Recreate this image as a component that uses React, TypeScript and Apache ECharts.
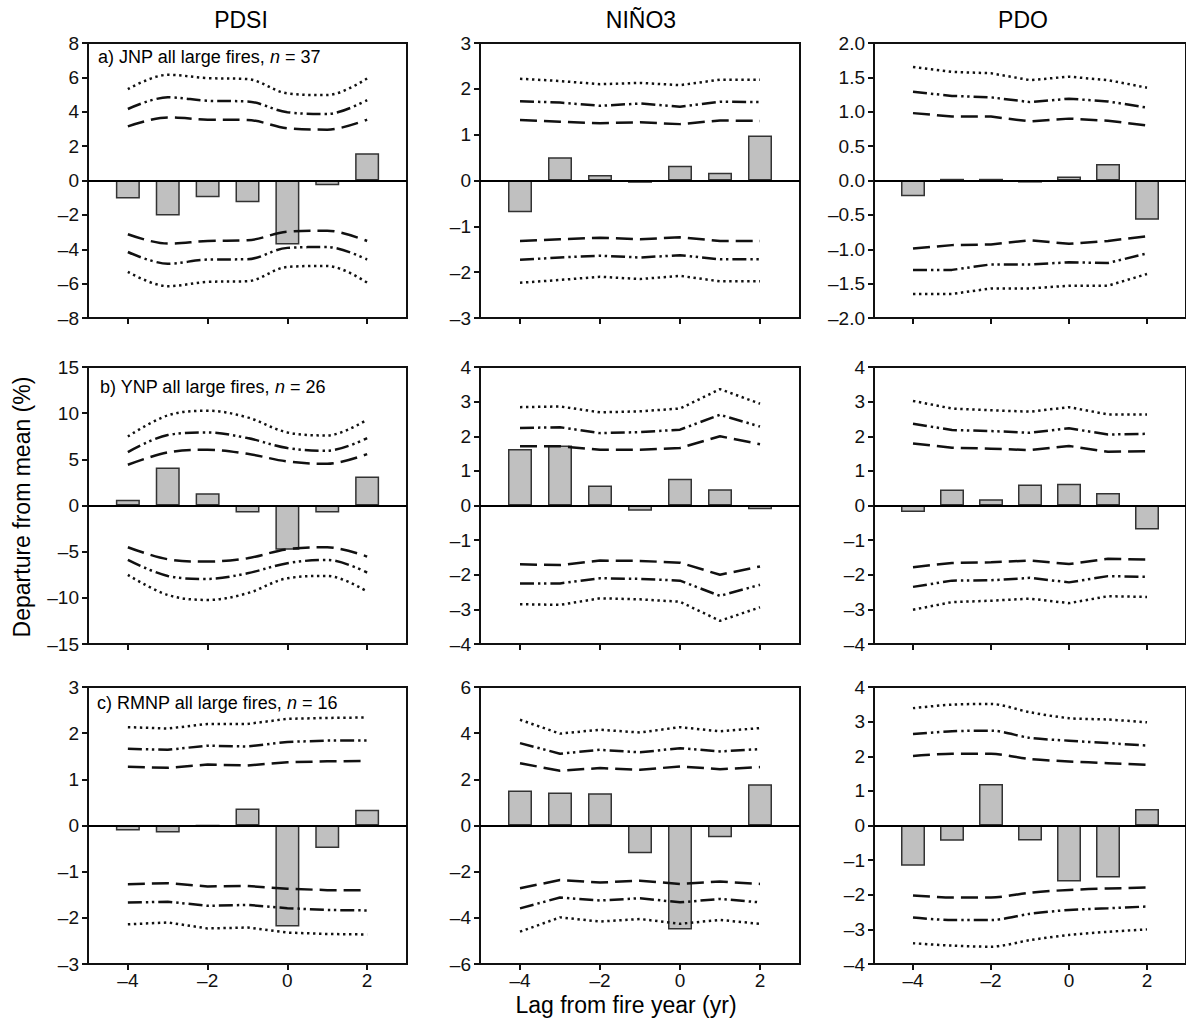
import React, { useEffect, useRef } from "react";
import * as echarts from "echarts";

// ---------- data ----------
const LAGS = [-4, -3, -2, -1, 0, 1, 2];
const X_TICKS = [-4, -2, 0, 2];
const COLUMN_TITLES = ["PDSI", "NIÑO3", "PDO"];
const PANEL_LABELS = [
  ["a) JNP all large fires, ", "n", " = 37"],
  ["b) YNP all large fires, ", "n", " = 26"],
  ["c) RMNP all large fires, ", "n", " = 16"],
];
const Y_MIN = [-8, -3, -2, -15, -4, -4, -3, -6, -4];
const Y_MAX = [8, 3, 2, 15, 4, 4, 3, 6, 4];
const Y_STEP = [2, 1, 0.5, 5, 1, 1, 1, 2, 1];
const Y_DECIMALS = [0, 0, 1, 0, 0, 0, 0, 0, 0];

// a) JNP — PDSI
const jnpPdsiBars = [-1.05, -2.03, -0.97, -1.26, -3.73, -0.27, 1.59];
const jnpPdsiDotUp = [5.32, 6.15, 5.96, 5.9, 5.07, 4.97, 5.94];
const jnpPdsiDashDotUp = [4.16, 4.84, 4.64, 4.6, 3.97, 3.87, 4.68];
const jnpPdsiDashUp = [3.15, 3.67, 3.54, 3.52, 3.04, 2.96, 3.54];
const jnpPdsiDashLo = [-3.13, -3.67, -3.52, -3.48, -2.98, -2.92, -3.52];
const jnpPdsiDashDotLo = [-4.16, -4.84, -4.6, -4.58, -3.92, -3.87, -4.6];
const jnpPdsiDotLo = [-5.32, -6.15, -5.9, -5.86, -5.03, -4.97, -5.94];
// a) JNP — NIÑO3
const jnpNinoBars = [-0.69, 0.51, 0.12, -0.05, 0.32, 0.17, 0.98];
const jnpNinoDotUp = [2.22, 2.17, 2.1, 2.13, 2.08, 2.2, 2.2];
const jnpNinoDashDotUp = [1.73, 1.7, 1.63, 1.68, 1.61, 1.72, 1.71];
const jnpNinoDashUp = [1.32, 1.28, 1.25, 1.27, 1.23, 1.31, 1.3];
const jnpNinoDashLo = [-1.32, -1.28, -1.25, -1.28, -1.24, -1.32, -1.32];
const jnpNinoDashDotLo = [-1.73, -1.68, -1.64, -1.68, -1.63, -1.72, -1.72];
const jnpNinoDotLo = [-2.23, -2.17, -2.1, -2.15, -2.08, -2.2, -2.2];
// a) JNP — PDO
const jnpPdoBars = [-0.23, 0.025, 0.025, -0.03, 0.06, 0.24, -0.57];
const jnpPdoDotUp = [1.65, 1.58, 1.56, 1.46, 1.51, 1.46, 1.35];
const jnpPdoDashDotUp = [1.29, 1.23, 1.21, 1.14, 1.19, 1.15, 1.06];
const jnpPdoDashUp = [0.98, 0.93, 0.93, 0.86, 0.9, 0.87, 0.8];
const jnpPdoDashLo = [-0.99, -0.94, -0.93, -0.87, -0.92, -0.88, -0.81];
const jnpPdoDashDotLo = [-1.3, -1.3, -1.22, -1.22, -1.19, -1.2, -1.06];
const jnpPdoDotLo = [-1.65, -1.65, -1.57, -1.57, -1.53, -1.53, -1.36];

// b) YNP — PDSI
const ynpPdsiBars = [0.61, 4.12, 1.34, -0.76, -4.8, -0.76, 3.14];
const ynpPdsiDotUp = [7.48, 9.76, 10.26, 9.54, 7.91, 7.59, 9.29];
const ynpPdsiDashDotUp = [5.78, 7.63, 7.91, 7.3, 6.22, 5.93, 7.3];
const ynpPdsiDashUp = [4.41, 5.75, 6.04, 5.6, 4.77, 4.52, 5.57];
const ynpPdsiDashLo = [-4.52, -5.82, -6.07, -5.71, -4.73, -4.52, -5.53];
const ynpPdsiDashDotLo = [-5.89, -7.63, -7.95, -7.34, -6.25, -5.89, -7.26];
const ynpPdsiDotLo = [-7.52, -9.69, -10.23, -9.5, -7.88, -7.63, -9.32];
// b) YNP — NIÑO3
const ynpNinoBars = [1.63, 1.73, 0.58, -0.15, 0.77, 0.47, -0.11];
const ynpNinoDotUp = [2.84, 2.86, 2.69, 2.72, 2.8, 3.36, 2.94];
const ynpNinoDashDotUp = [2.24, 2.26, 2.09, 2.12, 2.19, 2.62, 2.28];
const ynpNinoDashUp = [1.71, 1.71, 1.61, 1.61, 1.66, 2.0, 1.77];
const ynpNinoDashLo = [-1.7, -1.72, -1.59, -1.6, -1.65, -2.0, -1.76];
const ynpNinoDashDotLo = [-2.25, -2.25, -2.1, -2.12, -2.17, -2.61, -2.29];
const ynpNinoDotLo = [-2.85, -2.87, -2.68, -2.71, -2.78, -3.33, -2.94];
// b) YNP — PDO
const ynpPdoBars = [-0.19, 0.46, 0.18, 0.61, 0.63, 0.36, -0.69];
const ynpPdoDotUp = [3.02, 2.8, 2.75, 2.71, 2.84, 2.63, 2.63];
const ynpPdoDashDotUp = [2.36, 2.18, 2.15, 2.1, 2.23, 2.05, 2.07];
const ynpPdoDashUp = [1.79, 1.67, 1.64, 1.6, 1.72, 1.55, 1.57];
const ynpPdoDashLo = [-1.78, -1.66, -1.64, -1.59, -1.69, -1.54, -1.56];
const ynpPdoDashDotLo = [-2.35, -2.17, -2.16, -2.09, -2.22, -2.04, -2.06];
const ynpPdoDotLo = [-3.01, -2.79, -2.75, -2.69, -2.82, -2.62, -2.64];

// c) RMNP — PDSI
const rmnpPdsiBars = [-0.11, -0.15, 0, 0.37, -2.19, -0.49, 0.34];
const rmnpPdsiDotUp = [2.13, 2.1, 2.2, 2.2, 2.31, 2.33, 2.34];
const rmnpPdsiDashDotUp = [1.66, 1.64, 1.73, 1.71, 1.81, 1.84, 1.84];
const rmnpPdsiDashUp = [1.27, 1.25, 1.32, 1.3, 1.37, 1.39, 1.4];
const rmnpPdsiDashLo = [-1.27, -1.25, -1.32, -1.31, -1.37, -1.4, -1.4];
const rmnpPdsiDashDotLo = [-1.67, -1.65, -1.74, -1.72, -1.79, -1.83, -1.84];
const rmnpPdsiDotLo = [-2.14, -2.1, -2.23, -2.21, -2.32, -2.35, -2.36];
// c) RMNP — NIÑO3
const rmnpNinoBars = [1.52, 1.43, 1.4, -1.2, -4.5, -0.51, 1.79];
const rmnpNinoDotUp = [4.58, 3.98, 4.15, 4.03, 4.26, 4.08, 4.22];
const rmnpNinoDashDotUp = [3.57, 3.11, 3.28, 3.17, 3.35, 3.21, 3.31];
const rmnpNinoDashUp = [2.7, 2.37, 2.49, 2.41, 2.56, 2.44, 2.53];
const rmnpNinoDashLo = [-2.72, -2.36, -2.47, -2.39, -2.53, -2.43, -2.53];
const rmnpNinoDashDotLo = [-3.59, -3.12, -3.25, -3.15, -3.33, -3.18, -3.33];
const rmnpNinoDotLo = [-4.6, -3.98, -4.16, -4.05, -4.26, -4.09, -4.26];
// c) RMNP — PDO
const rmnpPdoBars = [-1.16, -0.44, 1.2, -0.43, -1.62, -1.5, 0.48];
const rmnpPdoDotUp = [3.39, 3.49, 3.51, 3.27, 3.1, 3.06, 2.98];
const rmnpPdoDashDotUp = [2.64, 2.72, 2.74, 2.53, 2.45, 2.38, 2.31];
const rmnpPdoDashUp = [2.01, 2.07, 2.07, 1.92, 1.85, 1.8, 1.75];
const rmnpPdoDashLo = [-2.02, -2.08, -2.08, -1.94, -1.86, -1.82, -1.79];
const rmnpPdoDashDotLo = [-2.66, -2.73, -2.73, -2.55, -2.44, -2.39, -2.34];
const rmnpPdoDotLo = [-3.4, -3.47, -3.5, -3.31, -3.16, -3.07, -3.0];

const PANELS = [
  [jnpPdsiBars, jnpPdsiDotUp, jnpPdsiDashDotUp, jnpPdsiDashUp, jnpPdsiDashLo, jnpPdsiDashDotLo, jnpPdsiDotLo],
  [jnpNinoBars, jnpNinoDotUp, jnpNinoDashDotUp, jnpNinoDashUp, jnpNinoDashLo, jnpNinoDashDotLo, jnpNinoDotLo],
  [jnpPdoBars, jnpPdoDotUp, jnpPdoDashDotUp, jnpPdoDashUp, jnpPdoDashLo, jnpPdoDashDotLo, jnpPdoDotLo],
  [ynpPdsiBars, ynpPdsiDotUp, ynpPdsiDashDotUp, ynpPdsiDashUp, ynpPdsiDashLo, ynpPdsiDashDotLo, ynpPdsiDotLo],
  [ynpNinoBars, ynpNinoDotUp, ynpNinoDashDotUp, ynpNinoDashUp, ynpNinoDashLo, ynpNinoDashDotLo, ynpNinoDotLo],
  [ynpPdoBars, ynpPdoDotUp, ynpPdoDashDotUp, ynpPdoDashUp, ynpPdoDashLo, ynpPdoDashDotLo, ynpPdoDotLo],
  [rmnpPdsiBars, rmnpPdsiDotUp, rmnpPdsiDashDotUp, rmnpPdsiDashUp, rmnpPdsiDashLo, rmnpPdsiDashDotLo, rmnpPdsiDotLo],
  [rmnpNinoBars, rmnpNinoDotUp, rmnpNinoDashDotUp, rmnpNinoDashUp, rmnpNinoDashLo, rmnpNinoDashDotLo, rmnpNinoDotLo],
  [rmnpPdoBars, rmnpPdoDotUp, rmnpPdoDashDotUp, rmnpPdoDashUp, rmnpPdoDashLo, rmnpPdoDashDotLo, rmnpPdoDotLo],
];

// ---------- layout / style ----------
const FONT = "'Liberation Sans', Arial, Helvetica, sans-serif";
const COL_LEFT = [88, 480, 874];
const COL_WIDTH = [319, 320, 320];
const ROW_TOP = [43, 367, 687];
const ROW_HEIGHT = [275, 277, 277];
const SMOOTH = [0.35, 0, 0, 0.35, 0, 0, 0, 0, 0.3];
const DOT: number[] = [2.4, 3.6];
const DASHDOT: number[] = [14, 4, 2.4, 3.6, 2.4, 4];
const DASH: number[] = [17, 7];
const LINE_TYPES = [DOT, DASHDOT, DASH, DASH, DASHDOT, DOT];
const INK = "#111";

const fmt = (v: number, d: number) => {
  const s = Math.abs(v).toFixed(d);
  return v < 0 ? "\u2013" + s : s;
};

function buildOption() {
  const grid: any[] = [];
  const xAxis: any[] = [];
  const yAxis: any[] = [];
  const series: any[] = [];
  PANELS.forEach((panel, i) => {
    const r = Math.floor(i / 3);
    const c = i % 3;
    grid.push({
      left: COL_LEFT[c],
      top: ROW_TOP[r],
      width: COL_WIDTH[c],
      height: ROW_HEIGHT[r],
      show: true,
      borderColor: INK,
      borderWidth: 2,
      backgroundColor: "transparent",
    });
    xAxis.push({
      gridIndex: i,
      type: "value",
      min: -5,
      max: 3,
      axisLine: { show: true, onZero: false, lineStyle: { color: INK, width: 2 } },
      axisTick: { show: true, customValues: X_TICKS, length: 6, lineStyle: { color: INK, width: 2 } },
      axisLabel: {
        show: r === 2,
        customValues: X_TICKS,
        formatter: (v: number) => fmt(v, 0),
        fontSize: 19,
        fontFamily: FONT,
        color: INK,
        margin: 7,
      },
      splitLine: { show: false },
    });
    yAxis.push({
      gridIndex: i,
      type: "value",
      min: Y_MIN[i],
      max: Y_MAX[i],
      interval: Y_STEP[i],
      axisLine: { show: true, onZero: false, lineStyle: { color: INK, width: 2 } },
      axisTick: { show: true, length: 6, lineStyle: { color: INK, width: 2 } },
      axisLabel: {
        formatter: (v: number) => fmt(v, Y_DECIMALS[i]),
        fontSize: 19,
        fontFamily: FONT,
        color: INK,
        margin: 9,
      },
      splitLine: { show: false },
    });
    const [bars, ...lines] = panel;
    series.push({
      type: "bar",
      xAxisIndex: i,
      yAxisIndex: i,
      data: LAGS.map((x, k) => [x, bars[k]]),
      barWidth: 24,
      itemStyle: { color: "#c0c0c0", borderColor: "#333", borderWidth: 1.5 },
      z: 2,
      markLine: {
        silent: true,
        symbol: ["none", "none"],
        label: { show: false },
        lineStyle: { color: "#000", width: 2, type: "solid" },
        data: [{ yAxis: 0 }],
      },
    });
    lines.forEach((vals, j) => {
      series.push({
        type: "line",
        xAxisIndex: i,
        yAxisIndex: i,
        data: LAGS.map((x, k) => [x, vals[k]]),
        symbol: "none",
        smooth: SMOOTH[i],
        z: 3,
        lineStyle: { color: INK, width: 2.5, type: LINE_TYPES[j] },
      });
    });
  });

  const graphic: any[] = [];
  const titleX = [241, 641, 1023];
  COLUMN_TITLES.forEach((t, c) => {
    graphic.push({
      type: "text",
      x: titleX[c],
      y: 20,
      style: { text: t, fontSize: 23, fontFamily: FONT, fill: "#000", align: "center", verticalAlign: "middle" },
    });
  });
  const labelPos = [
    [98, 57],
    [100, 387],
    [97, 703],
  ];
  PANEL_LABELS.forEach((p, r) => {
    graphic.push({
      type: "text",
      x: labelPos[r][0],
      y: labelPos[r][1],
      z: 10,
      style: {
        text: `{r|${p[0]}}{i|${p[1]}}{r|${p[2]}}`,
        rich: {
          r: { fontSize: 18, fontFamily: FONT, fill: "#000" },
          i: { fontSize: 18, fontFamily: FONT, fontStyle: "italic", fill: "#000" },
        },
        align: "left",
        verticalAlign: "middle",
      },
    });
  });
  graphic.push({
    type: "text",
    x: 22,
    y: 507,
    rotation: Math.PI / 2,
    style: {
      text: "Departure from mean (%)",
      fontSize: 23,
      fontFamily: FONT,
      fill: "#000",
      align: "center",
      verticalAlign: "middle",
    },
  });
  graphic.push({
    type: "text",
    x: 626,
    y: 1005,
    style: {
      text: "Lag from fire year (yr)",
      fontSize: 23,
      fontFamily: FONT,
      fill: "#000",
      align: "center",
      verticalAlign: "middle",
    },
  });

  return {
    animation: false,
    backgroundColor: "#fff",
    grid,
    xAxis,
    yAxis,
    series,
    graphic,
  };
}

export default function App() {
  const ref = useRef<HTMLDivElement>(null);
  useEffect(() => {
    if (!ref.current) return;
    const chart = echarts.init(ref.current, undefined, { renderer: "svg" });
    chart.setOption(buildOption() as any);
    return () => chart.dispose();
  }, []);
  return (
    <div
      ref={ref}
      style={{ position: "fixed", left: 0, top: 0, width: 1186, height: 1018, overflow: "hidden" }}
    />
  );
}
